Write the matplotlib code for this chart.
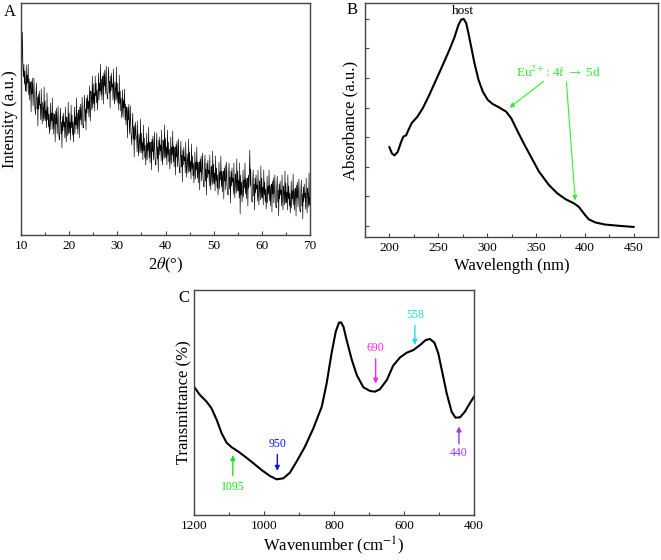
import numpy as np
import matplotlib
matplotlib.use('Agg')
import matplotlib.pyplot as plt

plt.rcParams['font.family'] = ['Liberation Serif', 'DejaVu Serif']
plt.rcParams['mathtext.fontset'] = 'stix'

# ---- Panel A: XRD pattern, 0.1 deg step from 10 to 70 ----
xrd_start = 10.0
xrd_step = 0.1
xrd_intensity = [
    182, 162, 175, 203, 168, 158, 171, 151, 164, 144,
    149, 170, 143, 160, 152, 171, 140, 156, 135, 153,
    151, 123, 154, 141, 157, 129, 140, 157, 132, 126,
    120, 141, 152, 126, 138, 109, 141, 126, 144, 130,
    131, 115, 146, 121, 111, 133, 126, 114, 148, 116,
    134, 114, 125, 107, 142, 115, 128, 108, 121, 101,
    111, 132, 105, 122, 114, 137, 106, 122, 101, 119,
    121, 93, 124, 111, 127, 101, 112, 129, 104, 98,
    95, 116, 127, 101, 113, 87, 119, 104, 122, 108,
    113, 97, 128, 103, 93, 118, 111, 99, 133, 101,
    122, 102, 113, 95, 130, 107, 120, 100, 113, 93,
    107, 128, 101, 118, 110, 137, 106, 122, 101, 119,
    125, 97, 128, 115, 131, 110, 121, 138, 113, 107,
    108, 129, 140, 114, 126, 105, 137, 122, 140, 126,
    134, 118, 149, 124, 114, 144, 137, 125, 159, 127,
    151, 131, 142, 124, 159, 139, 152, 132, 145, 125,
    141, 162, 135, 152, 144, 171, 140, 156, 135, 153,
    159, 131, 162, 149, 165, 141, 152, 169, 144, 138,
    136, 157, 168, 142, 154, 127, 159, 144, 162, 148,
    151, 135, 166, 141, 131, 153, 146, 134, 168, 136,
    152, 132, 143, 125, 160, 131, 144, 124, 137, 117,
    124, 145, 118, 135, 127, 146, 115, 131, 110, 128,
    125, 97, 128, 115, 131, 101, 112, 129, 104, 98,
    90, 111, 122, 96, 108, 78, 110, 95, 113, 99,
    99, 83, 114, 89, 79, 101, 94, 82, 116, 84,
    102, 82, 93, 75, 110, 84, 97, 77, 90, 70,
    81, 102, 75, 92, 84, 108, 77, 93, 72, 90,
    93, 65, 96, 83, 99, 75, 86, 103, 78, 72,
    70, 91, 102, 76, 88, 63, 95, 80, 98, 84,
    90, 74, 105, 80, 70, 95, 88, 76, 110, 78,
    97, 77, 88, 70, 105, 80, 93, 73, 86, 66,
    77, 98, 71, 88, 80, 104, 73, 89, 68, 86,
    88, 60, 91, 78, 94, 68, 79, 96, 71, 65,
    62, 83, 94, 68, 80, 53, 85, 70, 88, 74,
    78, 62, 93, 68, 58, 81, 74, 62, 96, 64,
    83, 63, 74, 56, 91, 66, 79, 59, 72, 52,
    62, 83, 56, 73, 65, 88, 57, 73, 52, 70,
    73, 45, 76, 63, 79, 54, 65, 82, 57, 51,
    48, 69, 80, 54, 66, 40, 72, 57, 75, 61,
    65, 49, 80, 55, 45, 69, 62, 50, 84, 52,
    71, 51, 62, 44, 79, 54, 67, 47, 60, 40,
    52, 73, 46, 63, 55, 79, 48, 64, 43, 61,
    64, 36, 67, 54, 70, 45, 56, 73, 48, 42,
    40, 61, 72, 46, 58, 32, 64, 49, 67, 53,
    57, 41, 72, 47, 37, 61, 54, 42, 76, 44,
    64, 44, 55, 37, 72, 21, 60, 40, 53, 33,
    44, 65, 38, 55, 47, 72, 41, 57, 36, 54,
    57, 29, 60, 47, 63, 85, 49, 66, 41, 35,
    33, 54, 65, 39, 51, 25, 57, 42, 60, 46,
    50, 34, 65, 40, 30, 54, 47, 35, 69, 37,
    57, 37, 48, 30, 65, 40, 53, 33, 46, 26,
    38, 59, 32, 49, 41, 65, 34, 50, 29, 47,
    51, 23, 54, 41, 57, 32, 43, 60, 35, 29,
    27, 48, 59, 33, 45, 19, 51, 36, 54, 40,
    45, 29, 60, 35, 25, 49, 42, 30, 64, 32,
    52, 32, 43, 25, 60, 36, 49, 29, 42, 22,
    33, 54, 27, 44, 36, 61, 30, 46, 25, 43,
    47, 19, 50, 37, 53, 28, 39, 56, 31, 25,
    23, 44, 55, 29, 41, 16, 48, 33, 51, 37,
    42, 26, 57, 32, 22, 47, 40, 28, 62, 30,
    38,
]
xrd_angle = xrd_start + xrd_step * np.arange(len(xrd_intensity))

# ---- Panel B: absorbance spectrum ----
abs_wavelength = [200, 202.4, 205.1, 208.5, 212, 214.3, 217.1, 219.4, 222.9, 228.4,
                  234.2, 241, 247.8, 254.6, 261.5, 266.6, 270.7, 273.5, 276.1, 278.6,
                  280.9, 283.7, 287.1, 291.2, 295.6, 300.7, 305.8, 312.7, 319.6, 324.7,
                  331.5, 338.3, 342.9, 353, 363.3, 371.8, 380.3, 388.8, 393.9, 399,
                  404, 410.9, 421, 434.7, 450]
abs_value = [1.33, 1.23, 1.19, 1.25, 1.42, 1.51, 1.53, 1.62, 1.74, 1.84,
             1.99, 2.22, 2.47, 2.72, 2.98, 3.19, 3.40, 3.49, 3.50, 3.43,
             3.26, 3.03, 2.75, 2.47, 2.27, 2.13, 2.06, 2.00, 1.93, 1.82,
             1.59, 1.37, 1.23, 0.92, 0.69, 0.55, 0.45, 0.38, 0.32, 0.21,
             0.11, 0.056, 0.02, 0.0, -0.02]

# ---- Panel C: FTIR spectrum ----
ir_wavenumber = [1200, 1183, 1164, 1150, 1135, 1121, 1107, 1092, 1073, 1054, 1030,
                 1007, 983, 964, 945, 926, 907, 883, 859, 835, 821, 807, 795, 786,
                 780, 773, 764, 749, 735, 716, 697, 683, 669, 649, 631, 611, 592,
                 573, 554, 538, 526, 513, 502, 491, 478, 464, 453, 440, 426, 412, 400]
ir_transmittance = [385, 360, 340, 320, 285, 245, 217, 203, 190, 175, 155,
                    135, 117, 107, 110, 127, 160, 205, 260, 325, 395, 485, 550, 577,
                    578, 565, 525, 465, 420, 383, 372, 370, 377, 405, 448, 473, 487,
                    495, 510, 525, 528, 517, 485, 430, 365, 310, 292, 293, 310, 335, 355]

# band labels: text, text x, text y, arrow tail y, arrow head y, colour
ir_bands = [
    ('1095', 1089, 85, 110, 188, '#22dd22'),
    ('950', 962, 213, 190, 124, '#1010ff'),
    ('690', 681, 500, 477, 386, '#ff22ff'),
    ('558', 569, 600, 577, 502, '#22dddd'),
    ('440', 443, 187, 205, 274, '#9933ff'),
]

W, H = 661, 560
fig = plt.figure(figsize=(W / 100, H / 100), dpi=100)


def px_axes(left, top, right, bottom):
    return fig.add_axes([left / W, (H - bottom) / H, (right - left) / W, (bottom - top) / H])


def style(ax):
    for sp in ax.spines.values():
        sp.set_color('#444444')
        sp.set_linewidth(1.0)
    ax.tick_params(direction='in', length=3, width=0.8, color='#444444', labelsize=9.5)
    ax.tick_params(which='minor', direction='in', length=2, width=0.8, color='#444444')


# A
axA = px_axes(21, 3, 310, 235)
axA.plot(xrd_angle, xrd_intensity, color='black', lw=0.45)
axA.set_xlim(10, 70)
axA.set_ylim(0, 232)
axA.set_xticks(range(10, 71, 10))
axA.set_xticks(range(15, 70, 10), minor=True)
axA.set_yticks([])
style(axA)
axA.set_xlabel('2$\\theta$(°)', fontsize=12, labelpad=3)
axA.set_ylabel('Intensity (a.u.)', fontsize=12, labelpad=2)
fig.text(4 / W, 1 - 12 / H, 'A', fontsize=12, va='center', ha='left')

# B
axB = px_axes(365, 3, 658, 237)
axB.plot(abs_wavelength, abs_value, color='black', lw=1.5)
axB.set_xlim(175, 475)
axB.set_ylim(-0.19, 3.77)
axB.set_xticks(range(200, 451, 50))
axB.set_xticks(range(225, 451, 50), minor=True)
axB.set_yticks(np.arange(0, 3.6, 0.5))
axB.set_yticklabels([])
style(axB)
axB.set_xlabel('Wavelength (nm)', fontsize=12, labelpad=3)
axB.set_ylabel('Absorbance (a.u.)', fontsize=12, labelpad=1)
axB.text(275, 3.64, 'host', fontsize=9.5, ha='center', va='center')
eu_col = '#33ee33'
axB.text(373, 2.59, 'Eu$^{2+}$: 4f $\\rightarrow$ 5d', fontsize=9.5, color=eu_col,
         ha='center', va='center')
axB.annotate('', xy=(320.7, 1.97), xytext=(360, 2.47),
             arrowprops=dict(arrowstyle='-|>', color=eu_col, lw=0.8, mutation_scale=7))
axB.annotate('', xy=(390.5, 0.38), xytext=(381, 2.48),
             arrowprops=dict(arrowstyle='-|>', color=eu_col, lw=0.8, mutation_scale=7))
fig.text(347 / W, 1 - 10 / H, 'B', fontsize=12, va='center', ha='left')

# C
axC = px_axes(194, 290, 474, 515)
axC.plot(ir_wavenumber, ir_transmittance, color='black', lw=1.5)
axC.set_xlim(1200, 400)
axC.set_ylim(0, 675)
axC.set_xticks(range(400, 1201, 200))
axC.set_xticks(range(500, 1200, 200), minor=True)
axC.set_yticks([])
style(axC)
axC.set_xlabel('Wavenumber (cm$^{-1}$)', fontsize=12, labelpad=2)
axC.set_ylabel('Transmittance (%)', fontsize=12, labelpad=1)
for label, tx, ty, y0, y1, col in ir_bands:
    axC.text(tx, ty, label, fontsize=8.5, color=col, ha='center', va='center')
    axC.annotate('', xy=(tx, y1), xytext=(tx, y0),
                 arrowprops=dict(arrowstyle='-|>', color=col, lw=1.0, mutation_scale=7))
fig.text(178 / W, 1 - 298 / H, 'C', fontsize=12, va='center', ha='left')

fig.savefig('out.png', dpi=100)
